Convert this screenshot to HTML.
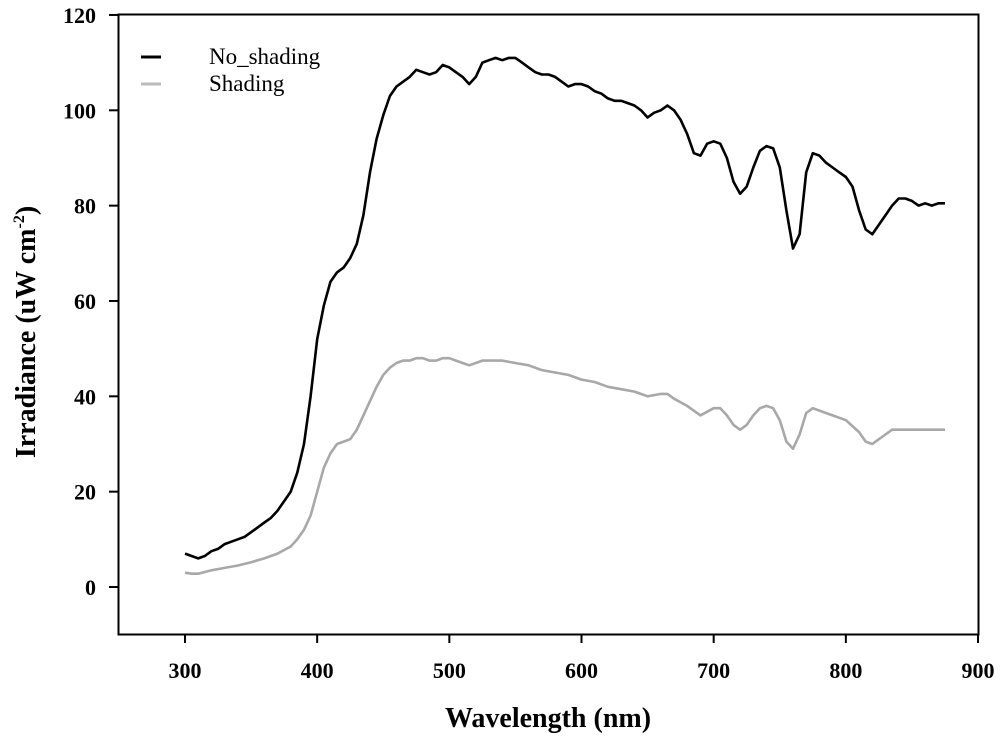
<!DOCTYPE html>
<html><head><meta charset="utf-8"><style>
body{margin:0;background:#fff;}
svg{display:block;font-family:"Liberation Serif",serif;}
</style></head><body>
<svg id="chart" width="1000" height="738">
<rect x="118.5" y="14.5" width="860" height="620" fill="none" stroke="#000" stroke-width="2"/>
<g id="xticks"></g>
<g id="yticks"></g>
<text x="548" y="727" text-anchor="middle" font-size="28" font-weight="bold">Wavelength (nm)</text>
<text transform="translate(35,332) rotate(-90)" text-anchor="middle" font-size="28" font-weight="bold">Irradiance (uW cm<tspan dy="-11" font-size="16">-2</tspan><tspan dy="11">)</tspan></text>
<g id="series"></g>
<g>
<line x1="141" y1="57" x2="161" y2="57" stroke="#000" stroke-width="3"/>
<text x="209" y="64" font-size="23">No_shading</text>
<line x1="141" y1="84" x2="161" y2="84" stroke="#bbb" stroke-width="3"/>
<text x="209" y="91" font-size="23">Shading</text>
</g>
</svg>
<script>
const xTickLabels=[300,400,500,600,700,800,900];
const yTickLabels=[0,20,40,60,80,100,120];
const wlNo=[300,305,310,315,320,325,330,335,340,345,350,355,360,365,370,375,380,385,390,395,400,405,410,415,420,425,430,435,440,445,450,455,460,465,470,475,480,485,490,495,500,505,510,515,520,525,530,535,540,545,550,555,560,565,570,575,580,585,590,595,600,605,610,615,620,625,630,635,640,645,650,655,660,665,670,675,680,685,690,695,700,705,710,715,720,725,730,735,740,745,750,755,760,765,770,775,780,785,790,795,800,805,810,815,820,825,830,835,840,845,850,855,860,865,870,875];
const noShading=[7,6.5,6,6.5,7.5,8,9,9.5,10,10.5,11.5,12.5,13.5,14.5,16,18,20,24,30,40,52,59,64,66,67,69,72,78,87,94,99,103,105,106,107,108.5,108,107.5,108,109.5,109,108,107,105.5,107,110,110.5,111,110.5,111,111,110,109,108,107.5,107.5,107,106,105,105.5,105.5,105,104,103.5,102.5,102,102,101.5,101,100,98.5,99.5,100,101,100,98,95,91,90.5,93,93.5,93,90,85,82.5,84,88,91.5,92.5,92,88,79,71,74,87,91,90.5,89,88,87,86,84,79,75,74,76,78,80,81.5,81.5,81,80,80.5,80,80.5,80.5];
const wlSh=[300,305,310,320,330,340,350,360,370,380,385,390,395,400,405,410,415,420,425,430,435,440,445,450,455,460,465,470,475,480,485,490,495,500,505,510,515,520,525,530,540,550,560,570,580,590,600,610,620,630,640,650,660,665,670,680,690,700,705,710,715,720,725,730,735,740,745,750,755,760,765,770,775,780,790,800,810,815,820,825,830,835,840,850,860,870,875];
const shading=[3,2.8,2.8,3.5,4,4.5,5.2,6,7,8.5,10,12,15,20,25,28,30,30.5,31,33,36,39,42,44.5,46,47,47.5,47.5,48,48,47.5,47.5,48,48,47.5,47,46.5,47,47.5,47.5,47.5,47,46.5,45.5,45,44.5,43.5,43,42,41.5,41,40,40.5,40.5,39.5,38,36,37.5,37.5,36,34,33,34,36,37.5,38,37.5,35,30.5,29,32,36.5,37.5,37,36,35,32.5,30.5,30,31,32,33,33,33,33,33,33];
const NS='http://www.w3.org/2000/svg';
const sx=w=>185+(w-300)*1.3217;
const sy=v=>587-v*4.767;
const xg=document.getElementById('xticks'),yg=document.getElementById('yticks'),sg=document.getElementById('series');
xTickLabels.forEach(t=>{
 const l=document.createElementNS(NS,'line');
 l.setAttribute('x1',sx(t));l.setAttribute('x2',sx(t));l.setAttribute('y1',634);l.setAttribute('y2',643);
 l.setAttribute('stroke','#000');l.setAttribute('stroke-width',2);
 
 
 xg.appendChild(l);
 const tx=document.createElementNS(NS,'text');
 tx.setAttribute('x',sx(t));tx.setAttribute('y',678);tx.setAttribute('text-anchor','middle');
 tx.setAttribute('font-size','22');tx.setAttribute('font-weight','bold');tx.textContent=t;
 
 
 xg.appendChild(tx);
});
yTickLabels.forEach(t=>{
 const l=document.createElementNS(NS,'line');
 l.setAttribute('x1',109);l.setAttribute('x2',118);l.setAttribute('y1',sy(t));l.setAttribute('y2',sy(t));
 l.setAttribute('stroke','#000');l.setAttribute('stroke-width',2);
 
 
 yg.appendChild(l);
 const tx=document.createElementNS(NS,'text');
 tx.setAttribute('x',96);tx.setAttribute('y',sy(t)+8);tx.setAttribute('text-anchor','end');
 tx.setAttribute('font-size','22');tx.setAttribute('font-weight','bold');tx.textContent=t;
 
 
 yg.appendChild(tx);
});
function line(xs,ys,color,name){
 const p=document.createElementNS(NS,'polyline');
 p.setAttribute('points',xs.map((w,i)=>sx(w).toFixed(1)+','+sy(ys[i]).toFixed(1)).join(' '));
 p.setAttribute('fill','none');p.setAttribute('stroke',color);p.setAttribute('stroke-width',2.6);
 p.setAttribute('stroke-linejoin','round');
 
 
 sg.appendChild(p);
}
line(wlSh,shading,'#a8a8a8','shading-line');
line(wlNo,noShading,'#000','no-shading-line');
</script>
</body></html>
